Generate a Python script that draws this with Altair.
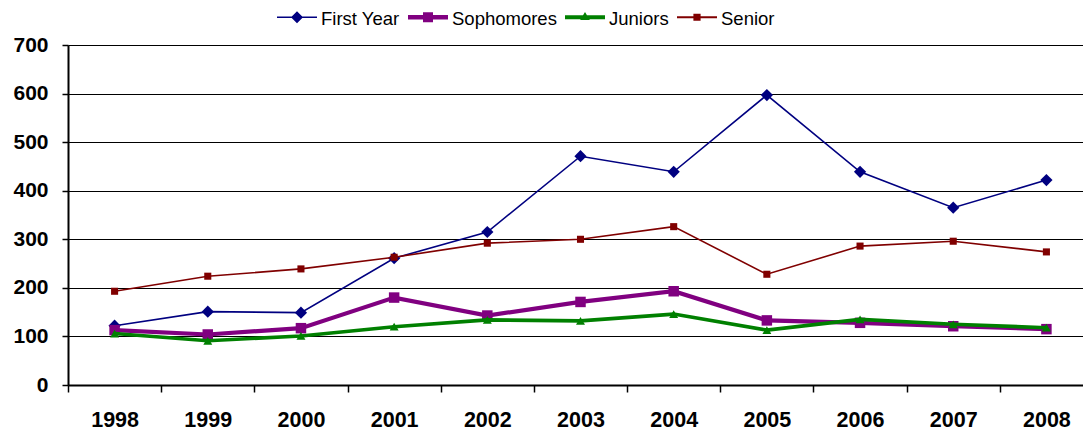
import altair as alt
import pandas as pd

years = ["1998", "1999", "2000", "2001", "2002", "2003", "2004", "2005", "2006", "2007", "2008"]
first_year = [122, 151, 149, 261, 315, 471, 439, 597, 439, 365, 422]
sophomores = [113, 104, 117, 180, 143, 171, 193, 133, 128, 121, 115]
juniors = [106, 91, 101, 120, 134, 132, 146, 113, 135, 125, 118]
senior = [193, 224, 239, 263, 292, 300, 326, 228, 286, 296, 274]

series_names = ["First Year", "Sophomores", "Juniors", "Senior"]
series_values = [first_year, sophomores, juniors, senior]
colors = ["#000080", "#800080", "#008000", "#800000"]
line_widths = [1.6, 4.2, 3.6, 1.6]
point_shapes = ["diamond", "square", "triangle-up", "square"]
point_sizes = [150, 110, 80, 50]
# legend glyphs (line segment + marker), drawn slightly above the entry centre
legend_paths = [
    "M-1,-0.14L1,-0.14L1,-0.06L-1,-0.06Z M0,-0.4L0.3,-0.1L0,0.2L-0.3,-0.1Z",
    "M-1,-0.21L1,-0.21L1,0.01L-1,0.01Z M-0.25,-0.35L0.25,-0.35L0.25,0.15L-0.25,0.15Z",
    "M-1,-0.2L1,-0.2L1,0L-1,0Z M0,-0.36L0.24,0.04L-0.24,0.04Z",
    "M-1,-0.15L1,-0.15L1,-0.05L-1,-0.05Z M-0.18,-0.28L0.18,-0.28L0.18,0.08L-0.18,0.08Z",
]

rows = []
for name, vals in zip(series_names, series_values):
    for yr, v in zip(years, vals):
        rows.append({"year": yr, "series": name, "value": v})
df = pd.DataFrame(rows)

FONT = "Liberation Sans"

x_enc = alt.X(
    "year:O",
    title=None,
    scale=alt.Scale(type="band", paddingInner=0, paddingOuter=0, range=[0, 1025]),
    axis=alt.Axis(
        labelAngle=0,
        labelFont=FONT,
        labelFontSize=21.5,
        labelFontWeight="bold",
        labelColor="black",
        labelPadding=17,
        tickBand="extent",
        tickSize=7,
        tickColor="black",
        tickWidth=1.5,
        domainColor="black",
        domainWidth=2,
        grid=False,
    ),
)
y_enc = alt.Y(
    "value:Q",
    title=None,
    scale=alt.Scale(domain=[0, 700], nice=False),
    axis=alt.Axis(
        values=[0, 100, 200, 300, 400, 500, 600, 700],
        labelFont=FONT,
        labelFontSize=21,
        labelFontWeight="bold",
        labelColor="black",
        labelPadding=14,
        tickSize=6,
        tickColor="black",
        tickWidth=1.5,
        domainColor="black",
        domainWidth=2,
        grid=True,
        gridColor="black",
        gridWidth=1.2,
        gridOpacity=1,
    ),
)

layers = []
for i, name in enumerate(series_names):
    base = alt.Chart(df).transform_filter(alt.datum.series == name)
    layers.append(
        base.mark_line(color=colors[i], strokeWidth=line_widths[i]).encode(x=x_enc, y=y_enc)
    )
    layers.append(
        base.mark_point(
            filled=True, shape=point_shapes[i], size=point_sizes[i], color=colors[i], opacity=1
        ).encode(x=x_enc, y=y_enc)
    )

legend_def = alt.Legend(
    title=None,
    orient="none",
    direction="horizontal",
    legendX=209,
    legendY=-46,
    symbolSize=1600,
    symbolStrokeWidth=0,
    symbolOpacity=1,
    labelFont=FONT,
    labelFontSize=18.5,
    labelColor="black",
    labelOffset=4,
    columnPadding=8,
    padding=0,
)

legend_layer = (
    alt.Chart(df)
    .transform_filter("datum.value < 0")
    .mark_point(filled=True, opacity=1)
    .encode(
        x=x_enc,
        y=y_enc,
        color=alt.Color(
            "series:N",
            scale=alt.Scale(domain=series_names, range=colors),
            legend=legend_def,
        ),
        shape=alt.Shape(
            "series:N",
            scale=alt.Scale(domain=series_names, range=legend_paths),
            legend=legend_def,
        ),
    )
)

chart = (
    alt.layer(*layers, legend_layer)
    .properties(
        width=1015,
        height=340,
        autosize=alt.AutoSizeParams(type="none"),
        padding={"left": 60, "top": 37, "right": 0, "bottom": 48},
    )
    .configure_view(stroke=None)
    .configure(font=FONT, background="white")
)

chart.save("out.html", embed_options={"renderer": "svg", "actions": False})
